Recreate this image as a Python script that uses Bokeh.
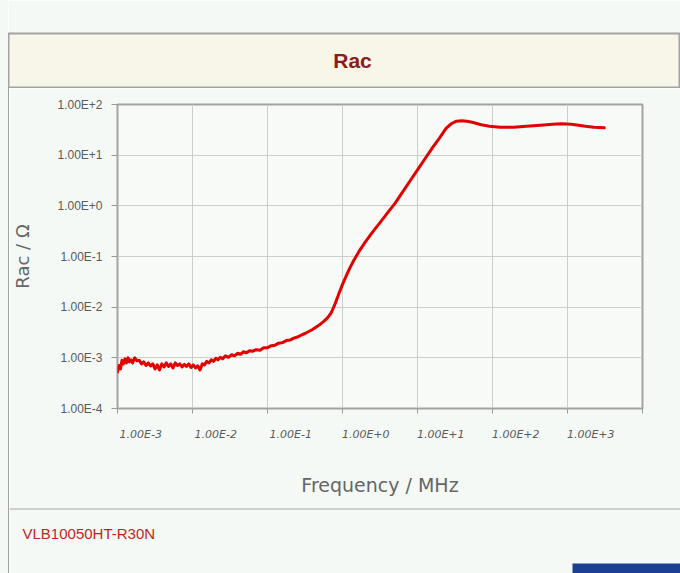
from bokeh.plotting import figure
from bokeh.models import FixedTicker, LogAxis, Spacer, Span, BoxAnnotation
from bokeh.layouts import column, row
from bokeh.core.properties import value
from bokeh.embed import file_html
from bokeh.resources import INLINE

# ---------------- data ----------------
title_text = "Rac"
part_number = "VLB10050HT-R30N"
x_axis_title = "Frequency / MHz"
y_axis_title = "Rac / \u03a9"

# log10 of frequency [MHz] and log10 of Rac [Ohm]
log_freq = [
    -3.00, -2.98, -2.96, -2.94, -2.92, -2.90, -2.88, -2.86, -2.84, -2.82,
    -2.80, -2.77, -2.74, -2.71, -2.68, -2.65, -2.62, -2.59, -2.56, -2.53,
    -2.50, -2.47, -2.44, -2.41, -2.38, -2.35, -2.32, -2.29, -2.26, -2.23,
    -2.20, -2.17, -2.14, -2.11, -2.08, -2.05, -2.02, -1.99, -1.96, -1.93,
    -1.90, -1.87, -1.84, -1.81, -1.78, -1.75, -1.72, -1.69, -1.66, -1.63,
    -1.60, -1.56, -1.52, -1.48, -1.44, -1.40, -1.36, -1.32, -1.28, -1.24,
    -1.20, -1.15, -1.10, -1.05, -1.00, -0.95, -0.90, -0.85, -0.80, -0.75,
    -0.70, -0.65, -0.60, -0.55, -0.50, -0.45, -0.40, -0.35, -0.30, -0.25,
    -0.20, -0.15, -0.10, -0.05, 0.00, 0.05, 0.10, 0.15, 0.22, 0.30,
    0.40, 0.50, 0.60, 0.70, 0.80, 0.90, 1.00, 1.10, 1.20, 1.30,
    1.38, 1.45, 1.52, 1.59, 1.66, 1.73, 1.85, 1.96, 2.10, 2.28,
    2.45, 2.64, 2.80, 2.92, 3.05, 3.24, 3.35, 3.49,
]
log_rac = [
    -3.28, -3.15, -3.22, -3.05, -3.12, -3.02, -3.10, -3.00, -3.08, -3.04,
    -3.10, -3.00, -3.06, -3.05, -3.12, -3.08, -3.15, -3.10, -3.16, -3.12,
    -3.22, -3.14, -3.24, -3.12, -3.18, -3.10, -3.17, -3.12, -3.20, -3.10,
    -3.15, -3.12, -3.18, -3.13, -3.17, -3.12, -3.19, -3.14, -3.20, -3.16,
    -3.24, -3.12, -3.14, -3.07, -3.10, -3.04, -3.07, -3.01, -3.04, -2.99,
    -3.02, -2.96, -2.99, -2.94, -2.96, -2.91, -2.93, -2.88, -2.90, -2.86,
    -2.87, -2.84, -2.85, -2.80, -2.80, -2.76, -2.75, -2.71, -2.70, -2.66,
    -2.65, -2.61, -2.59, -2.55, -2.52, -2.48, -2.44, -2.39, -2.34, -2.28,
    -2.21, -2.11, -1.94, -1.74, -1.55, -1.38, -1.22, -1.08, -0.90, -0.72,
    -0.52, -0.33, -0.14, 0.05, 0.27, 0.49, 0.71, 0.93, 1.15, 1.35,
    1.53, 1.62, 1.67, 1.68, 1.67, 1.65, 1.60, 1.57, 1.55, 1.55,
    1.57, 1.59, 1.61, 1.62, 1.61, 1.57, 1.55, 1.54,
]
freq_mhz = [10 ** v for v in log_freq]
rac_ohm = [10 ** v for v in log_rac]

x_tick_values = [1e-3, 1e-2, 1e-1, 1e0, 1e1, 1e2, 1e3, 1e4]
x_tick_labels = ["1.00E-3", "1.00E-2", "1.00E-1", "1.00E+0", "1.00E+1",
                 "1.00E+2", "1.00E+3", "1.00E+4"]
y_tick_values = [1e-4, 1e-3, 1e-2, 1e-1, 1e0, 1e1, 1e2]
y_tick_labels = ["1.00E-4", "1.00E-3", "1.00E-2", "1.00E-1", "1.00E+0",
                 "1.00E+1", "1.00E+2"]

# ---------------- styling ----------------
PAGE_BG = "#f4f9f6"
BAND_BG = "#f8f6e8"
PLOT_BG = "#f7faf6"
BORDER = "#a3a3a3"
GRID = "#cdcdcd"
TEXT_GRAY = "#5a5a5a"
FONT = "DejaVu Sans"

W = 672  # width of the boxed area (page x 8 .. 680)

# ---- header band ----
head = figure(width=W, height=88, x_range=(0, W), y_range=(0, 55),
              x_axis_location=None, y_axis_location=None,
              toolbar_location=None, output_backend="svg",
              min_border_top=33, min_border_bottom=0,
              min_border_left=0, min_border_right=0)
head.border_fill_color = PAGE_BG
head.background_fill_color = BAND_BG
head.outline_line_color = BORDER
head.outline_line_width = 2
head.grid.visible = False
head.text(x=[344], y=[28], text=[title_text], text_align="center",
          text_baseline="middle", text_color="#8b1c1c",
          text_font=value("Liberation Sans"), text_font_style="bold",
          text_font_size="21px")

# ---- main chart ----
p = figure(width=W - 1, height=420, x_axis_type="log", y_axis_type="log",
           x_range=(1e-3, 1e4), y_range=(1e-4, 1e2),
           toolbar_location=None, output_backend="svg",
           min_border_left=107, min_border_right=38,
           min_border_top=16, min_border_bottom=100)
p.border_fill_color = PAGE_BG
p.background_fill_color = PLOT_BG
p.outline_line_color = BORDER
p.outline_line_width = 2

tick_axis = p.xaxis[0]
tick_axis.ticker = FixedTicker(ticks=x_tick_values)
tick_axis.major_label_overrides = {v: lab for v, lab in zip(x_tick_values, x_tick_labels)}
tick_axis.major_label_text_font_size = "1px"
tick_axis.major_label_text_alpha = 0
tick_axis.major_label_standoff = 0
tick_axis.major_tick_out = 5
tick_axis.major_tick_in = 0
tick_axis.minor_tick_out = 0
tick_axis.minor_tick_in = 0
tick_axis.major_tick_line_color = "#999999"
tick_axis.axis_line_color = None

label_shift = 10 ** 0.31
x_label_pos = [v * label_shift for v in x_tick_values]
label_axis = LogAxis(ticker=FixedTicker(ticks=x_label_pos),
                     major_label_overrides={pos: lab for pos, lab in zip(x_label_pos, x_tick_labels)},
                     major_tick_out=0, major_tick_in=0,
                     minor_tick_out=0, minor_tick_in=0,
                     axis_line_color=None,
                     major_label_standoff=14,
                     major_label_text_font=FONT,
                     major_label_text_font_style="italic",
                     major_label_text_font_size="11px",
                     major_label_text_color=TEXT_GRAY,
                     axis_label=x_axis_title,
                     axis_label_standoff=30,
                     axis_label_text_font=FONT,
                     axis_label_text_font_style="normal",
                     axis_label_text_font_size="19px",
                     axis_label_text_color="#666666")
p.add_layout(label_axis, "below")

yax = p.yaxis[0]
yax.ticker = FixedTicker(ticks=y_tick_values)
yax.major_label_overrides = {v: lab for v, lab in zip(y_tick_values, y_tick_labels)}
yax.major_tick_out = 6
yax.major_tick_in = 0
yax.minor_tick_out = 0
yax.minor_tick_in = 0
yax.major_tick_line_color = "#999999"
yax.axis_line_color = None
yax.major_label_standoff = 9
yax.major_label_text_font = "Liberation Sans"
yax.major_label_text_font_size = "12px"
yax.major_label_text_color = TEXT_GRAY
yax.axis_label = y_axis_title
yax.axis_label_standoff = 21
yax.axis_label_text_font = FONT
yax.axis_label_text_font_style = "normal"
yax.axis_label_text_font_size = "18px"
yax.axis_label_text_color = "#666666"

p.xgrid.ticker = FixedTicker(ticks=x_tick_values)
p.ygrid.ticker = FixedTicker(ticks=y_tick_values)
p.grid.grid_line_color = GRID
p.grid.grid_line_width = 1

p.line(freq_mhz, rac_ohm, line_color="#e30000", line_width=3,
       line_join="round", line_cap="round")

left_bar = Spacer(width=1, height=420, styles={"background-color": BORDER})

# ---- footer ----
FH = 65
foot = figure(width=W - 1, height=FH, x_range=(0, W - 1), y_range=(0, FH),
              x_axis_location=None, y_axis_location=None,
              toolbar_location=None, output_backend="svg",
              min_border_top=0, min_border_bottom=0,
              min_border_left=0, min_border_right=0)
foot.border_fill_color = PAGE_BG
foot.background_fill_color = PAGE_BG
foot.outline_line_color = None
foot.grid.visible = False
foot.add_layout(Span(location=FH, dimension="width", line_color=BORDER, line_width=2))
foot.add_layout(BoxAnnotation(left=563, right=W - 1, bottom=0, top=10,
                              fill_color="#1c3f94", fill_alpha=1, line_color=None))
foot.text(x=[13], y=[40], text=[part_number], text_align="left",
          text_baseline="middle", text_color="#c81e1e",
          text_font=value("Liberation Sans"), text_font_size="15px")
left_bar2 = Spacer(width=1, height=FH, styles={"background-color": BORDER})

boxed = column(head, row(left_bar, p), row(left_bar2, foot))
margin = Spacer(width=8, height=88 + 420 + FH, styles={"background-color": PAGE_BG})
layout = row(margin, boxed)

open("out.html", "w").write(file_html(layout, INLINE))
